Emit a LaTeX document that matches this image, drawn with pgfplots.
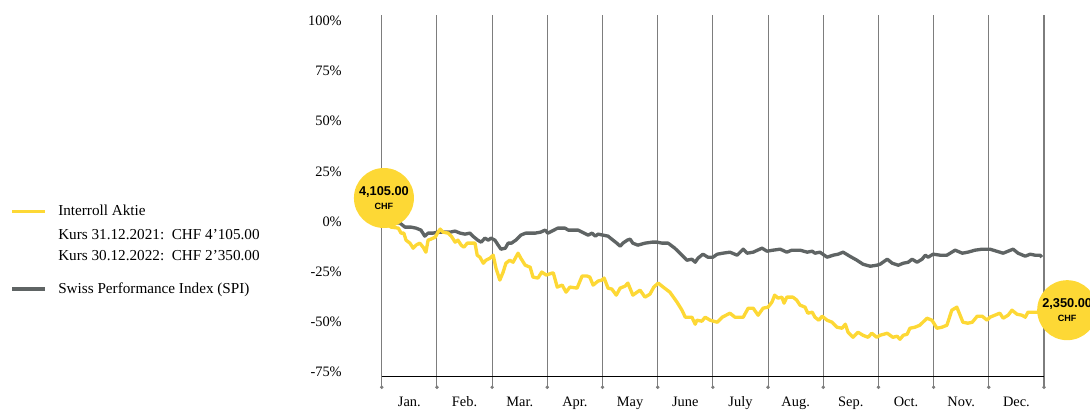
\documentclass[border=0pt]{standalone}
\usepackage{pgfplots}
\pgfplotsset{compat=1.18}
\usepackage{fontspec}
\setmainfont{Liberation Serif}
\newfontfamily\sansb{Liberation Sans}
\definecolor{iyellow}{HTML}{FDD835}
\definecolor{igray}{HTML}{5F6464}
\definecolor{gridc}{HTML}{7D7D7D}
\begin{document}
\begin{tikzpicture}[x=1pt,y=1pt]
\path[use as bounding box] (0,0) rectangle (817.5,307.5);
% legend
\draw[iyellow, line width=2.4pt] (9,148.7) -- (33.75,148.7);
\node[anchor=base west, inner sep=0pt, font=\fontsize{11.4}{13}\selectfont] at (43.5,145.5) {Interroll Aktie};
\node[anchor=base west, inner sep=0pt, font=\fontsize{11.4}{13}\selectfont] at (43.5,128.0) {Kurs 31.12.2021:\ \ CHF 4’105.00};
\node[anchor=base west, inner sep=0pt, font=\fontsize{11.4}{13}\selectfont] at (43.5,111.75) {Kurs 30.12.2022:\ \ CHF 2’350.00};
\draw[igray, line width=2.4pt] (9,90.75) -- (33.75,90.75);
\node[anchor=base west, inner sep=0pt, font=\fontsize{11.4}{13}\selectfont] at (43.5,87.0) {Swiss Performance Index (SPI)};
\begin{axis}[
  at={(286.3pt,25.5pt)}, anchor=south west,
  scale only axis, width=496.7pt, height=270.9pt,
  xmin=0, xmax=12, ymin=-77, ymax=103,
  axis lines*=left,
  y axis line style={draw=none},
  x axis line style={black, line width=0.6pt, -},
  tick align=outside,
  major tick length=0pt,
  minor tick length=8.25pt,
  xtick={0.5,1.5,2.5,3.5,4.5,5.5,6.5,7.5,8.5,9.5,10.5,11.5},
  xticklabels={Jan.,Feb.,Mar.,Apr.,May,June,July,Aug.,Sep.,Oct.,Nov.,Dec.},
  minor xtick={0,1,2,3,4,5,6,7,8,9,10,11,12},
  xminorgrids,
  minor x grid style={gridc, line width=0.8pt},
  minor x tick style={gridc, line width=0.8pt},
  major x tick style={draw=none},
  ytick={-75,-50,-25,0,25,50,75,100},
  yticklabels={-75\%,-50\%,-25\%,0\%,25\%,50\%,75\%,100\%},
  ytick style={draw=none},
  yticklabel style={anchor=east, inner sep=0pt, xshift=-29.8pt, font=\fontsize{10.8}{12}\selectfont},
  xticklabel style={anchor=base, inner sep=0pt, yshift=-22.9pt, font=\fontsize{10.8}{12}\selectfont},
  clip=false,
]
\addplot[only marks, mark=*, mark size=1.1pt, color=gridc] coordinates {
(0,-82.6)(1,-82.6)(2,-82.6)(3,-82.6)(4,-82.6)(5,-82.6)(6,-82.6)(7,-82.6)(8,-82.6)(9,-82.6)(10,-82.6)(11,-82.6)(12,-82.6)};
% SPI
\addplot[igray, line width=2.5pt, line join=round] coordinates {
(0,0)(0.33,-0.8)(0.42,-2.8)(0.53,-2.8)(0.62,-3.3)(0.71,-4.3)(0.78,-7.3)(0.84,-5.8)(0.93,-5.8)
(1.02,-5.3)(1.15,-5.3)(1.24,-5.3)(1.33,-4.8)(1.42,-5.8)(1.51,-6.3)(1.60,-5.8)(1.65,-7.3)(1.74,-9.3)
(1.80,-10.3)(1.87,-8.3)(1.93,-9.3)(1.98,-8.3)(2.05,-9.3)(2.11,-11.8)(2.16,-13.8)(2.24,-13.3)(2.29,-10.8)
(2.35,-10.8)(2.43,-9.3)(2.52,-6.8)(2.61,-5.8)(2.78,-5.8)(2.88,-5.3)(2.96,-4.3)(3.01,-5.8)(3.19,-3.3)
(3.32,-3.3)(3.38,-4.3)(3.56,-4.3)(3.63,-5.3)(3.74,-6.8)(3.81,-5.8)(3.87,-7.3)(3.92,-6.3)(4.01,-6.8)
(4.10,-7.3)(4.19,-9.3)(4.26,-10.8)(4.32,-12.3)(4.37,-10.8)(4.45,-9.3)(4.50,-8.8)(4.55,-10.8)(4.64,-11.8)
(4.77,-10.8)(4.90,-10.3)(4.99,-10.3)(5.08,-10.8)(5.19,-10.8)(5.31,-13.3)(5.44,-16.8)(5.53,-19.3)
(5.62,-18.8)(5.68,-20.3)(5.73,-18.3)(5.82,-16.3)(5.91,-17.8)(6.00,-17.8)(6.08,-16.3)(6.18,-15.8)
(6.31,-15.3)(6.44,-16.8)(6.55,-13.8)(6.62,-15.8)(6.73,-15.3)(6.89,-13.3)(6.98,-14.8)(7.09,-14.3)
(7.22,-13.8)(7.34,-15.3)(7.43,-14.3)(7.58,-14.3)(7.71,-15.3)(7.80,-14.8)(7.85,-15.8)(7.94,-15.3)
(8.07,-17.8)(8.18,-16.8)(8.27,-16.3)(8.36,-15.3)(8.48,-17.3)(8.61,-19.3)(8.72,-21.3)(8.85,-22.3)
(8.97,-21.8)(9.03,-21.3)(9.16,-18.8)(9.25,-20.8)(9.36,-21.8)(9.45,-20.8)(9.54,-20.3)(9.61,-18.8)
(9.70,-20.3)(9.79,-18.8)(9.85,-16.8)(9.90,-17.8)(9.99,-16.3)(10.12,-16.8)(10.24,-16.8)(10.33,-15.3)
(10.39,-14.3)(10.52,-15.8)(10.62,-15.3)(10.75,-14.3)(10.88,-13.8)(11.02,-13.8)(11.14,-14.8)(11.26,-15.8)
(11.35,-14.8)(11.44,-13.8)(11.53,-15.8)(11.66,-17.3)(11.75,-16.3)(11.84,-16.8)(11.93,-16.8)(11.96,-17.8)};
% Interroll
\addplot[iyellow, line width=2.5pt, line join=round] coordinates {
(0,0)(0.17,-2.8)(0.30,-3.3)(0.35,-5.8)(0.40,-5.8)(0.44,-9.3)(0.51,-10.8)(0.57,-13.3)(0.62,-11.8)
(0.69,-10.8)(0.75,-12.8)(0.80,-15.3)(0.84,-9.3)(0.89,-8.8)(0.97,-7.8)(1.02,-5.3)(1.06,-3.8)(1.11,-5.3)
(1.20,-5.8)(1.26,-7.3)(1.33,-10.3)(1.38,-9.3)(1.44,-11.8)(1.49,-12.8)(1.55,-10.8)(1.69,-10.8)(1.73,-16.8)
(1.78,-17.8)(1.84,-20.8)(1.89,-19.3)(1.96,-18.3)(2.02,-16.8)(2.07,-23.3)(2.14,-29.2)(2.20,-25.2)
(2.25,-20.8)(2.32,-19.3)(2.38,-20.3)(2.43,-17.8)(2.47,-15.8)(2.52,-18.3)(2.60,-21.8)(2.69,-22.8)
(2.74,-27.7)(2.83,-28.2)(2.90,-25.2)(2.98,-26.7)(3.09,-25.7)(3.11,-25.7)(3.18,-32.7)(3.27,-31.7)
(3.34,-35.2)(3.41,-32.7)(3.54,-33.2)(3.63,-27.2)(3.72,-27.2)(3.77,-27.7)(3.83,-31.7)(3.92,-29.7)
(3.99,-29.2)(4.03,-28.2)(4.10,-33.2)(4.17,-33.7)(4.25,-36.7)(4.32,-33.2)(4.41,-32.2)(4.46,-30.7)
(4.55,-36.7)(4.68,-34.2)(4.77,-37.7)(4.86,-36.2)(4.93,-32.7)(5.01,-30.7)(5.10,-32.7)(5.22,-35.2)
(5.35,-40.2)(5.44,-44.2)(5.50,-47.7)(5.62,-47.7)(5.68,-51.2)(5.71,-49.2)(5.80,-49.7)(5.86,-47.7)
(5.95,-49.2)(6.08,-50.2)(6.17,-47.7)(6.31,-45.7)(6.40,-47.7)(6.55,-47.7)(6.64,-43.2)(6.73,-43.2)
(6.82,-46.7)(6.91,-43.2)(7.00,-42.7)(7.07,-40.2)(7.12,-36.7)(7.18,-38.2)(7.25,-37.7)(7.29,-40.7)
(7.34,-37.7)(7.45,-37.7)(7.52,-39.2)(7.58,-41.7)(7.67,-42.7)(7.72,-45.7)(7.80,-45.2)(7.85,-47.7)
(7.92,-49.2)(7.98,-47.2)(8.07,-49.2)(8.16,-50.2)(8.25,-52.7)(8.34,-53.2)(8.40,-51.2)(8.45,-55.2)
(8.54,-57.7)(8.63,-55.2)(8.72,-56.7)(8.81,-57.7)(8.88,-55.7)(8.97,-57.7)(9.03,-56.7)(9.16,-55.7)
(9.26,-57.7)(9.34,-57.2)(9.39,-58.7)(9.45,-56.7)(9.52,-56.2)(9.57,-53.2)(9.66,-52.7)(9.75,-51.7)
(9.88,-48.2)(9.97,-49.2)(10.06,-53.2)(10.15,-52.7)(10.24,-51.7)(10.33,-44.2)(10.42,-42.7)(10.48,-46.7)
(10.53,-50.2)(10.62,-50.7)(10.70,-50.2)(10.79,-47.2)(10.88,-47.2)(10.97,-49.2)(11.02,-47.7)(11.11,-46.7)
(11.20,-45.7)(11.26,-48.2)(11.35,-46.7)(11.42,-44.2)(11.51,-46.2)(11.60,-46.7)(11.66,-47.7)(11.71,-45.2)
(11.89,-45.2)(11.98,-45.2)};
\node[circle, fill=iyellow, minimum size=45pt, inner sep=0pt, align=center, font=\sansb\bfseries]
  at (axis cs:0.04,11.7) {\fontsize{9.6}{10}\selectfont 4,105.00\\[-1.5pt]\fontsize{6.8}{7}\selectfont CHF};
\node[circle, fill=iyellow, minimum size=45pt, inner sep=0pt, align=center, font=\sansb\bfseries]
  at (axis cs:12.42,-44.2) {\fontsize{9.6}{10}\selectfont 2,350.00\\[-1.5pt]\fontsize{6.8}{7}\selectfont CHF};
\end{axis}
\end{tikzpicture}
\end{document}
